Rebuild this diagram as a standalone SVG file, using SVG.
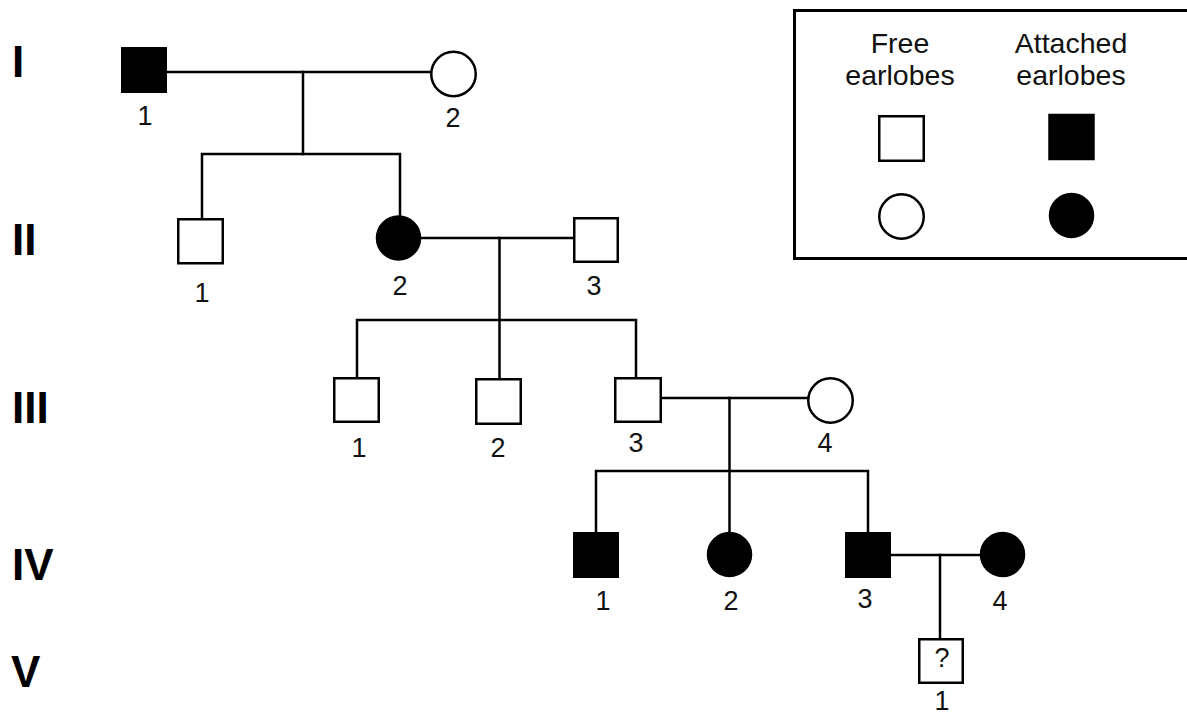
<svg xmlns="http://www.w3.org/2000/svg" width="1187" height="716" viewBox="0 0 1187 716">
  <style>
    .sym { stroke: #000; stroke-width: 2.5; fill: #fff; }
    .aff { fill: #000; }
    .ln { stroke: #000; stroke-width: 2.5; fill: none; stroke-linecap: square; }
    .num { font-family: "Liberation Sans", Arial, sans-serif; font-size: 27px; fill: #111; text-anchor: middle; }
    .gen { font-family: "Liberation Sans", Arial, sans-serif; font-size: 44px; font-weight: bold; fill: #000; }
    .key { font-family: "Liberation Sans", Arial, sans-serif; font-size: 28.5px; fill: #111; text-anchor: middle; }
  </style>
  <rect width="1187" height="716" fill="#fff"/>

  <!-- generation labels -->
  <g id="generations">
    <text class="gen" x="12" y="77">I</text>
    <text class="gen" x="12" y="255">II</text>
    <text class="gen" x="12" y="423">III</text>
    <text class="gen" x="12" y="580">IV</text>
    <text class="gen" x="11" y="687" font-size="46">V</text>
  </g>

  <!-- key -->
  <g id="legend">
    <rect x="794.5" y="10.5" width="420" height="248" fill="none" stroke="#000" stroke-width="3"/>
    <text class="key" x="900" y="53">Free</text>
    <text class="key" x="900" y="85">earlobes</text>
    <text class="key" x="1071" y="53">Attached</text>
    <text class="key" x="1071" y="85">earlobes</text>
    <rect class="sym" x="879.25" y="116.25" width="44.5" height="44.5"/>
    <rect class="sym aff" x="1049.5" y="115" width="44" height="44"/>
    <circle class="sym" cx="901.5" cy="216.5" r="22.25"/>
    <circle class="sym aff" cx="1071.5" cy="215.5" r="21.5"/>
  </g>

  <!-- lines of descent and marriage -->
  <g id="connectors">
    <line class="ln" x1="167" y1="72" x2="431" y2="72"/>
    <line class="ln" x1="303" y1="72" x2="303" y2="154"/>
    <polyline class="ln" points="202,218 202,154 400,154 400,216"/>

    <line class="ln" x1="421" y1="238" x2="573" y2="238"/>
    <line class="ln" x1="499.5" y1="238" x2="499.5" y2="378"/>
    <polyline class="ln" points="357,377 357,320 636,320 636,377"/>

    <line class="ln" x1="662" y1="398" x2="808" y2="398"/>
    <line class="ln" x1="729.5" y1="398" x2="729.5" y2="533"/>
    <polyline class="ln" points="596,532 596,471 868,471 868,532"/>

    <line class="ln" x1="890" y1="555" x2="981" y2="555"/>
    <line class="ln" x1="940" y1="555" x2="940" y2="638"/>
  </g>

  <!-- generation I -->
  <g id="I-1">
    <rect class="sym aff" x="122.25" y="48.25" width="43.5" height="43.5"/>
    <text class="num" x="145" y="125">1</text>
  </g>
  <g id="I-2">
    <circle class="sym" cx="453.5" cy="74" r="22.25"/>
    <text class="num" x="453" y="127">2</text>
  </g>

  <!-- generation II -->
  <g id="II-1">
    <rect class="sym" x="178.25" y="219.25" width="44.5" height="44"/>
    <text class="num" x="202" y="302">1</text>
  </g>
  <g id="II-2">
    <circle class="sym aff" cx="398.5" cy="238" r="21.5"/>
    <text class="num" x="400" y="295">2</text>
  </g>
  <g id="II-3">
    <rect class="sym" x="574.25" y="218.25" width="43.5" height="43.5"/>
    <text class="num" x="594" y="295">3</text>
  </g>

  <!-- generation III -->
  <g id="III-1">
    <rect class="sym" x="334.25" y="378.25" width="44.5" height="43.5"/>
    <text class="num" x="359" y="457">1</text>
  </g>
  <g id="III-2">
    <rect class="sym" x="476.25" y="379.25" width="44.5" height="44.5"/>
    <text class="num" x="498" y="457">2</text>
  </g>
  <g id="III-3">
    <rect class="sym" x="615.25" y="378.25" width="45.5" height="43.5"/>
    <text class="num" x="636" y="452">3</text>
  </g>
  <g id="III-4">
    <circle class="sym" cx="830.5" cy="400.5" r="22.25"/>
    <text class="num" x="825" y="452">4</text>
  </g>

  <!-- generation IV -->
  <g id="IV-1">
    <rect class="sym aff" x="574.25" y="533.25" width="43.5" height="43.5"/>
    <text class="num" x="603" y="610">1</text>
  </g>
  <g id="IV-2">
    <circle class="sym aff" cx="729.5" cy="554.5" r="21.5"/>
    <text class="num" x="731" y="610">2</text>
  </g>
  <g id="IV-3">
    <rect class="sym aff" x="846.25" y="533.25" width="43.5" height="43.5"/>
    <text class="num" x="865" y="608">3</text>
  </g>
  <g id="IV-4">
    <circle class="sym aff" cx="1002.5" cy="554.5" r="21.5"/>
    <text class="num" x="1000" y="610">4</text>
  </g>

  <!-- generation V -->
  <g id="V-1">
    <rect class="sym" x="919.25" y="639.25" width="43.5" height="43.5"/>
    <text class="num" x="942" y="667" font-size="25">?</text>
    <text class="num" x="942" y="710">1</text>
  </g>
</svg>
